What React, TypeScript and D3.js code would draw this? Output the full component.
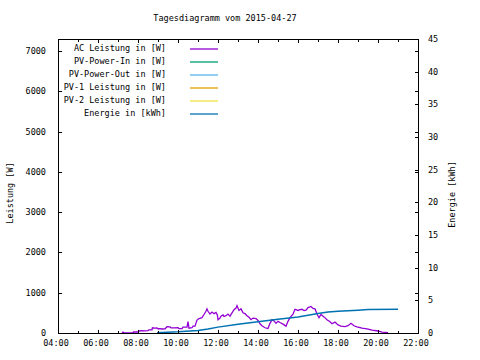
import React from "react";
import * as d3 from "d3";

// ---- data ----
const xTickLabels = ["04:00", "06:00", "08:00", "10:00", "12:00", "14:00", "16:00", "18:00", "20:00", "22:00"];
const yLeftTicks = [0, 1000, 2000, 3000, 4000, 5000, 6000, 7000];
const yRightTicks = [0, 5, 10, 15, 20, 25, 30, 35, 40, 45];

const legendLabels = [
  "AC Leistung in [W]",
  "PV-Power-In in [W]",
  "PV-Power-Out in [W]",
  "PV-1 Leistung in [W]",
  "PV-2 Leistung in [W]",
  "Energie in [kWh]",
];
const legendColors = ["#9400d3", "#009e73", "#56b4e9", "#e69f00", "#f0e442", "#0072b2"];

// AC Leistung: [hour, W]
const acHours = [
  7.2, 7.25, 7.32, 7.75, 7.77, 8.0, 8.05, 8.2, 8.35, 8.5, 8.55, 8.7, 8.72, 8.85, 8.95, 9.0, 9.1, 9.2, 9.35, 9.45, 9.6, 9.65,
  9.8, 10.0, 10.05, 10.2, 10.25, 10.45, 10.5, 10.55, 10.7, 10.75, 10.85, 10.95, 11.05, 11.2, 11.3, 11.4, 11.45, 11.5,
  11.6, 11.7, 11.8, 11.9, 11.97, 12.0, 12.1, 12.15, 12.25, 12.3, 12.4, 12.5, 12.6, 12.7, 12.8, 12.9, 12.95, 13.05,
  13.15, 13.25, 13.35, 13.45, 13.55, 13.65, 13.75, 13.9, 14.0, 14.1, 14.2, 14.35, 14.5, 14.6, 14.7, 14.8, 14.9, 15.0,
  15.1, 15.25, 15.4, 15.5, 15.6, 15.75, 15.85, 16.0, 16.1, 16.2, 16.3, 16.4, 16.5, 16.65, 16.75, 16.85, 16.95, 17.05,
  17.15, 17.3, 17.45, 17.6, 17.7, 17.85, 18.0, 18.15, 18.35, 18.5, 18.65, 18.8, 18.95, 19.2, 19.45, 19.7, 20.0, 20.2, 20.5,
];
const acWatts = [
  0, 25, 0, 0, 25, 25, 50, 60, 55, 60, 80, 80, 130, 120, 125, 105, 110, 100, 105, 155, 150, 130,
  125, 130, 110, 110, 145, 145, 280, 120, 130, 170, 170, 320, 360, 380, 460, 540, 600, 540,
  470, 520, 480, 510, 440, 330, 370, 420, 450, 410, 430, 470, 420, 500, 580, 620, 680, 560,
  600, 500, 480, 430, 390, 330, 370, 360, 310, 230, 180, 130, 110, 240, 330, 300, 240, 290,
  260, 220, 170, 290, 380, 470, 590, 560, 580, 590, 560, 570, 630, 660, 610, 600, 470, 380,
  460, 400, 330, 280, 230, 270, 200, 170, 160, 180, 240, 180, 150, 120, 100, 70, 50, 20, 10,
];

// Energie: [hour, kWh]
const enHours = [8.95, 10.0, 11.0, 11.5, 12.0, 13.0, 14.0, 15.0, 16.0, 17.0, 17.5, 18.0, 18.5, 19.0, 19.5, 21.0];
const enKwh = [0.05, 0.18, 0.38, 0.6, 0.9, 1.35, 1.73, 2.1, 2.45, 3.0, 3.2, 3.32, 3.42, 3.5, 3.6, 3.62];

const FONT = "'DejaVu Sans Mono', monospace";
const FS = 8.5;

export default function App() {
  const L = 58, R = 418, T = 39, B = 333;
  const x = d3.scaleLinear().domain([4, 22]).range([L, R]);
  const y = d3.scaleLinear().domain([0, 7300]).range([B, T]);
  const y2 = d3.scaleLinear().domain([0, 45]).range([B, T]);

  const acLine = d3
    .line<number>()
    .x((_, i) => x(acHours[i]))
    .y((v) => y(v))(acWatts);
  const enLine = d3
    .line<number>()
    .x((_, i) => x(enHours[i]))
    .y((v) => y2(v))(enKwh);

  const hourTicks = d3.range(4, 23, 1);

  return (
    <svg
      width={480}
      height={360}
      style={{ position: "absolute", left: 0, top: 0, background: "#fff" }}
      fontFamily={FONT}
      fontSize={FS}
    >
      <rect x={0} y={0} width={480} height={360} fill="#fff" />
      {/* title */}
      <text x={225} y={21} textAnchor="middle" fill="#000">
        Tagesdiagramm vom 2015-04-27
      </text>

      {/* data */}
      <path d={acLine ?? ""} fill="none" stroke={legendColors[0]} strokeWidth={1.3} />
      <path d={enLine ?? ""} fill="none" stroke={legendColors[5]} strokeWidth={1.5} />

      {/* frame */}
      <g shapeRendering="crispEdges" stroke="#000" strokeWidth={1}>
        <line x1={L} x2={R} y1={B + 0.5} y2={B + 0.5} />
        <line x1={L} x2={R} y1={T + 0.5} y2={T + 0.5} />
        <line x1={L + 0.5} x2={L + 0.5} y1={T} y2={B + 1} />
        <line x1={R + 0.5} x2={R + 0.5} y1={T} y2={B + 1} />
        {/* x ticks bottom & top */}
        {hourTicks.map((h) => {
          const major = h % 2 === 0;
          const len = major ? 3 : 2;
          const xx = Math.round(x(h)) + 0.5;
          return (
            <g key={"xt" + h}>
              <line x1={xx} x2={xx} y1={B} y2={B - len} />
              <line x1={xx} x2={xx} y1={T} y2={T + len + 1} />
            </g>
          );
        })}
        {/* left y ticks + mirror on right */}
        {yLeftTicks.map((v) => {
          const yy = Math.round(y(v)) + 0.5;
          return (
            <g key={"yl" + v}>
              <line x1={L} x2={L + 4} y1={yy} y2={yy} />
              <line x1={R - 3} x2={R + 1} y1={yy} y2={yy} />
            </g>
          );
        })}
        {/* right y2 ticks */}
        {yRightTicks.map((v) => {
          const yy = Math.round(y2(v)) + 0.5;
          return <line key={"yr" + v} x1={R - 3} x2={R + 1} y1={yy} y2={yy} />;
        })}
      </g>

      {/* x tick labels */}
      {xTickLabels.map((t, i) => (
        <text key={t} x={x(4 + i * 2) - 2} y={346} textAnchor="middle" fill="#000">
          {t}
        </text>
      ))}
      {/* left labels */}
      {yLeftTicks.map((v) => (
        <text key={"yll" + v} x={46} y={y(v) + 3} textAnchor="end" fill="#000">
          {v}
        </text>
      ))}
      {/* right labels */}
      {yRightTicks.map((v) => (
        <text key={"yrl" + v} x={428} y={y2(v) + 3} textAnchor="start" fill="#000">
          {v}
        </text>
      ))}

      {/* axis titles */}
      <text transform="translate(12.5,193) rotate(-90)" textAnchor="middle" fill="#000">
        Leistung [W]
      </text>
      <text transform="translate(455,194.5) rotate(-90)" textAnchor="middle" fill="#000">
        Energie [kWh]
      </text>

      {/* legend */}
      {legendLabels.map((lab, i) => {
        const by = 50.5 + i * 13;
        return (
          <g key={lab}>
            <text x={166} y={by} textAnchor="end" fill="#000">
              {lab}
            </text>
            <line x1={190} x2={218} y1={by - 1.5} y2={by - 1.5} stroke={legendColors[i]} strokeWidth={1.3} />
          </g>
        );
      })}
    </svg>
  );
}
